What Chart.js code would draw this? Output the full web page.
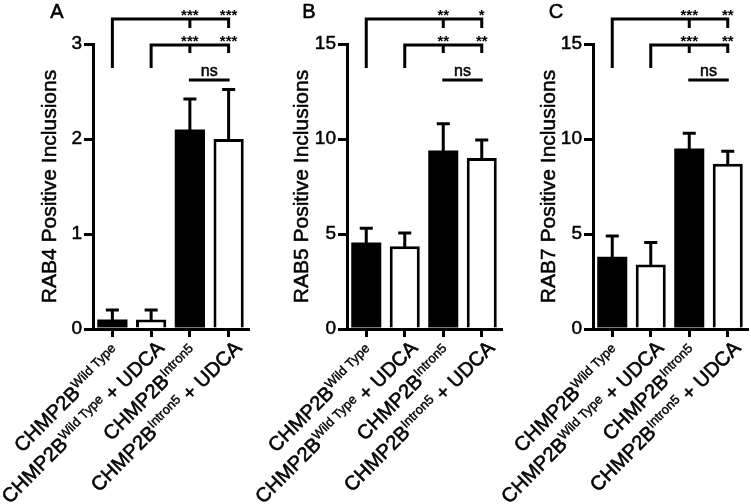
<!DOCTYPE html>
<html><head><meta charset="utf-8">
<script src="https://cdn.jsdelivr.net/npm/chart.js@4.4.0/dist/chart.umd.min.js"></script>
<style>
html,body{margin:0;padding:0;background:#fff;}
#wrap{position:relative;width:751px;height:504px;overflow:hidden;background:#fff;}
canvas{position:absolute;top:0;}
</style></head><body>
<div id="wrap">
<canvas id="cA" width="250" height="504" style="left:0px"></canvas>
<canvas id="cB" width="253" height="504" style="left:250px"></canvas>
<canvas id="cC" width="251" height="504" style="left:500px"></canvas>
</div>
<script>
// ---- data ----
const categoryBase = ['CHMP2B', 'CHMP2B', 'CHMP2B', 'CHMP2B'];
const categorySup = ['Wild Type', 'Wild Type', 'Intron5', 'Intron5'];
const categorySuffix = ['', ' + UDCA', '', ' + UDCA'];
const categories = categoryBase.map((b, i) => b + categorySup[i] + categorySuffix[i]);
const barFills = ['#000000', '#ffffff', '#000000', '#ffffff'];
const barBorders = [0, 3, 0, 3];

const panelLetters = ['A', 'B', 'C'];
const yTitles = ['RAB4 Positive Inclusions', 'RAB5 Positive Inclusions', 'RAB7 Positive Inclusions'];
const yMaxes = [3, 15, 15];
const ySteps = [1, 5, 5];

const rab4Means = [0.1, 0.1, 2.1, 2.0];
const rab4Sem = [0.1, 0.1, 0.32, 0.52];
const rab5Means = [4.55, 4.35, 9.4, 9.0];
const rab5Sem = [0.75, 0.7, 1.4, 0.95];
const rab7Means = [3.8, 3.4, 9.5, 8.7];
const rab7Sem = [1.1, 1.15, 0.8, 0.65];

const sigRow1 = [['***', '***'], ['**', '*'], ['***', '**']];
const sigRow2 = [['***', '***'], ['**', '**'], ['***', '**']];
const sigRow3 = ['ns', 'ns', 'ns'];

// ---- layout ----
const FONT = '"Liberation Sans", Arial, Helvetica, sans-serif';
const panelCfg = [
  { id: 'cA', yWidth: 93, padRight: 2, titleX: 50.5, letterX: 57 },
  { id: 'cB', yWidth: 97, padRight: 2, titleX: 52.5, letterX: 59 },
  { id: 'cC', yWidth: 93, padRight: 4, titleX: 49, letterX: 56 }
];
const means = [rab4Means, rab5Means, rab7Means];
const sems = [rab4Sem, rab5Sem, rab7Sem];

function heavyText(ctx, t, x, y, sw) {
  ctx.fillText(t, x, y);
  ctx.lineWidth = sw;
  ctx.strokeText(t, x, y);
}

function makePlugin(p) {
  return {
    id: 'extras' + p,
    afterDatasetsDraw(chart) {
      const ctx = chart.ctx;
      const ys = chart.scales.y;
      const meta = chart.getDatasetMeta(0);
      ctx.save();
      ctx.strokeStyle = '#000';
      ctx.lineWidth = 3;
      ctx.lineCap = 'butt';
      means[p].forEach((m, i) => {
        const x = meta.data[i].x;
        const y0 = ys.getPixelForValue(m);
        const y1 = ys.getPixelForValue(m + sems[p][i]);
        ctx.beginPath();
        ctx.moveTo(x, y0 + 1);
        ctx.lineTo(x, y1);
        ctx.moveTo(x - 6.5, y1);
        ctx.lineTo(x + 6.5, y1);
        ctx.stroke();
      });
      ctx.restore();
    },
    afterDraw(chart) {
      const ctx = chart.ctx;
      const xs = chart.scales.x;
      const area = chart.chartArea;
      const cx = categories.map((c, i) => xs.getPixelForValue(i));
      ctx.save();
      ctx.fillStyle = '#000';
      ctx.strokeStyle = '#000';
      ctx.lineJoin = 'round';
      // panel letter
      ctx.font = '20px ' + FONT;
      ctx.textAlign = 'center';
      ctx.textBaseline = 'alphabetic';
      heavyText(ctx, panelLetters[p], panelCfg[p].letterX, 18, 0.6);
      // y title
      ctx.save();
      ctx.translate(panelCfg[p].titleX, (area.top + area.bottom) / 2);
      ctx.rotate(-Math.PI / 2);
      ctx.font = '21px ' + FONT;
      ctx.textAlign = 'center';
      ctx.textBaseline = 'middle';
      heavyText(ctx, yTitles[p], 0, 0, 0.5);
      ctx.restore();
      // brackets
      ctx.lineWidth = 3;
      ctx.lineCap = 'butt';
      ctx.lineJoin = 'miter';
      ctx.beginPath();
      ctx.moveTo(cx[0], 68); ctx.lineTo(cx[0], 19); ctx.lineTo(cx[3] + 1.5, 19);
      ctx.moveTo(cx[2], 19); ctx.lineTo(cx[2], 28);
      ctx.moveTo(cx[3], 19); ctx.lineTo(cx[3], 28);
      ctx.moveTo(cx[1], 68); ctx.lineTo(cx[1], 45); ctx.lineTo(cx[3] + 1.5, 45);
      ctx.moveTo(cx[2], 45); ctx.lineTo(cx[2], 53);
      ctx.moveTo(cx[3], 45); ctx.lineTo(cx[3], 53);
      ctx.moveTo(cx[2] - 1, 80); ctx.lineTo(cx[3] + 1, 80);
      ctx.stroke();
      ctx.lineJoin = 'round';
      ctx.font = 'bold 15px ' + FONT;
      ctx.fillText(sigRow1[p][0], cx[2], 19.5);
      ctx.fillText(sigRow1[p][1], cx[3], 19.5);
      ctx.fillText(sigRow2[p][0], cx[2], 45.5);
      ctx.fillText(sigRow2[p][1], cx[3], 45.5);
      ctx.font = '16px ' + FONT;
      heavyText(ctx, sigRow3[p], (cx[2] + cx[3]) / 2, 76, 0.5);
      // rotated category labels with superscripts
      const mainFont = '20px ' + FONT;
      const supFont = '13px ' + FONT;
      const raise = 7;
      categories.forEach((c, i) => {
        const segs = [
          { t: categoryBase[i], sup: false },
          { t: categorySup[i], sup: true },
          { t: categorySuffix[i], sup: false }
        ].filter(s => s.t.length);
        const trail = segs[segs.length - 1].sup ? 7 : 0;
        ctx.save();
        ctx.translate(cx[i] + 14, area.bottom + 20);
        ctx.rotate(-Math.PI / 4);
        ctx.textAlign = 'right';
        ctx.textBaseline = 'alphabetic';
        let cur = -trail;
        for (let k = segs.length - 1; k >= 0; k--) {
          const s = segs[k];
          ctx.font = s.sup ? supFont : mainFont;
          heavyText(ctx, s.t, cur, s.sup ? -raise : 0, s.sup ? 0.4 : 0.6);
          cur -= ctx.measureText(s.t).width;
        }
        ctx.restore();
      });
      ctx.restore();
    }
  };
}

panelCfg.forEach((cfg, p) => {
  new Chart(document.getElementById(cfg.id), {
    type: 'bar',
    data: {
      labels: categories,
      datasets: [{
        data: means[p],
        backgroundColor: barFills,
        borderColor: '#000',
        borderWidth: barBorders,
        borderRadius: 0,
        barPercentage: 0.78,
        categoryPercentage: 1.0
      }]
    },
    options: {
      responsive: false,
      animation: false,
      devicePixelRatio: 1,
      layout: { padding: { top: 44, right: cfg.padRight, left: 0, bottom: 0 } },
      plugins: { legend: { display: false }, tooltip: { enabled: false } },
      scales: {
        x: {
          afterFit: (s) => { s.height = 175; },
          grid: { display: true, drawOnChartArea: false, drawTicks: true, tickLength: 8, lineWidth: 3, color: '#000', offset: false },
          border: { display: true, color: '#000', width: 3 },
          ticks: { display: false }
        },
        y: {
          min: 0, max: yMaxes[p],
          afterFit: (s) => { s.width = cfg.yWidth; },
          ticks: { stepSize: ySteps[p], color: '#000', font: { family: FONT, size: 19 }, padding: 2, textStrokeColor: '#000', textStrokeWidth: 0.5 },
          grid: { display: true, drawOnChartArea: false, drawTicks: true, tickLength: 9, lineWidth: 3, color: '#000' },
          border: { display: true, color: '#000', width: 3 },
          title: { display: false }
        }
      }
    },
    plugins: [makePlugin(p)]
  });
});
</script>
</body></html>
